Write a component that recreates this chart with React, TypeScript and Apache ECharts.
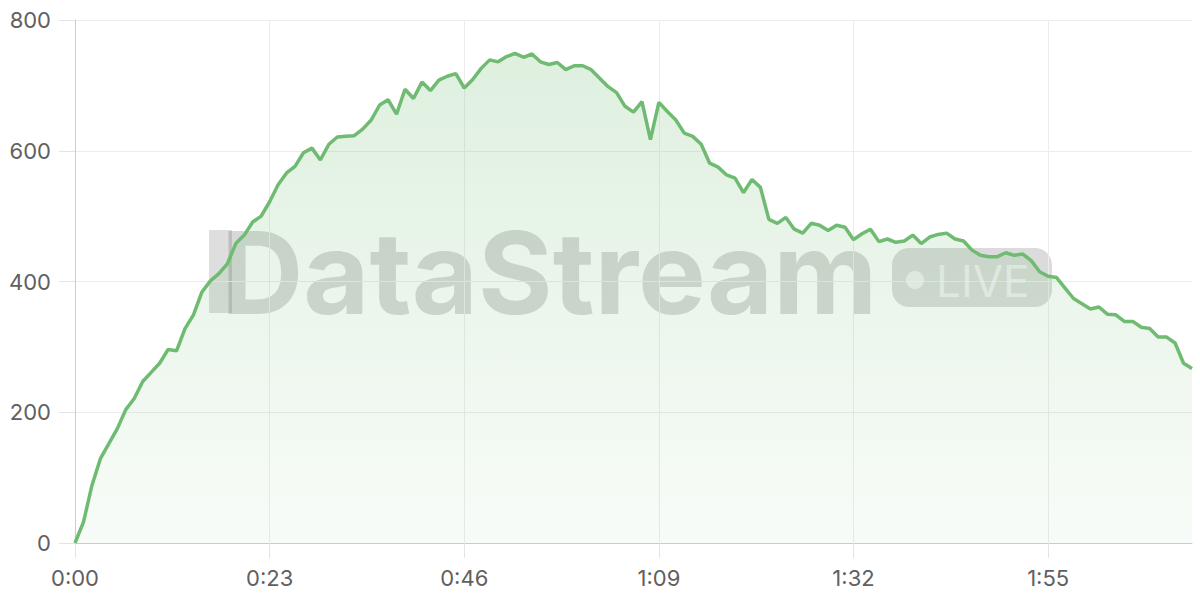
import React, { useEffect, useRef } from "react";
import * as echarts from "echarts";

// one sample per second, 0:00 .. 2:12
const seconds: number[] = Array.from({ length: 133 }, (_, i) => i);
const categories: string[] = seconds.map(
  (s) => `${Math.floor(s / 60)}:${String(s % 60).padStart(2, "0")}`
);

const values: number[] = [
  0, 32, 88, 129, 152, 175, 204, 221, 247, 261,
  275, 296, 294, 328, 349, 384, 401, 412, 427, 458,
  471, 491, 500, 522, 548, 566, 576, 597, 604, 586,
  610, 621, 622, 623, 633, 647, 670, 678, 656, 694,
  680, 705, 692, 708, 714, 718, 696, 709, 726, 739,
  736, 744, 749, 743, 748, 736, 732, 735, 724, 730,
  730, 724, 711, 698, 689, 668, 659, 675, 617, 674,
  660, 647, 627, 622, 610, 581, 575, 563, 558, 536,
  556, 544, 495, 489, 498, 480, 474, 489, 486, 478,
  486, 483, 464, 473, 480, 461, 465, 460, 462, 471,
  458, 468, 472, 474, 465, 462, 448, 440, 438, 438,
  444, 440, 442, 432, 415, 408, 406, 390, 374, 366,
  358, 361, 350, 349, 339, 339, 330, 328, 315, 315,
  306, 275, 267,
];

const yTicks: number[] = [0, 200, 400, 600, 800];
const watermarkText = "DataStream";
const badgeText = "LIVE";

export default function App() {
  const ref = useRef<HTMLDivElement>(null);

  useEffect(() => {
    document.body.style.margin = "0";
    if (!ref.current) return;
    const chart = echarts.init(ref.current, undefined, { renderer: "svg" });
    const font = "Inter, 'Noto Sans', sans-serif";
    chart.setOption({
      animation: false,
      grid: { left: 75, right: 8, top: 20, bottom: 57, containLabel: false },
      xAxis: {
        type: "category",
        data: categories,
        boundaryGap: false,
        axisLine: { show: true, lineStyle: { color: "#cccccc", width: 1 } },
        axisTick: {
          show: true,
          interval: 22,
          length: 15,
          lineStyle: { color: "#e4e4e4" },
        },
        axisLabel: {
          interval: 22,
          margin: 24,
          fontSize: 22,
          color: "#606060",
          fontFamily: font,
        },
        splitLine: { show: true, interval: 22, lineStyle: { color: "#ececec" } },
      },
      yAxis: {
        type: "value",
        min: yTicks[0],
        max: yTicks[yTicks.length - 1],
        interval: 200,
        axisLine: { show: true, lineStyle: { color: "#cccccc" } },
        axisTick: { show: true, length: 16, lineStyle: { color: "#e4e4e4" } },
        axisLabel: {
          margin: 24,
          fontSize: 22,
          color: "#606060",
          fontFamily: font,
        },
        splitLine: { show: true, lineStyle: { color: "#ececec" } },
      },
      graphic: [
        {
          type: "rect",
          z: 0,
          shape: { x: 209, y: 230, width: 23, height: 83 },
          style: { fill: "rgba(0,0,0,0.13)" },
        },
        {
          type: "text",
          z: 0,
          x: 221,
          y: 272,
          style: {
            text: watermarkText,
            fontFamily: font,
            fontWeight: "bold",
            fontSize: 114,
            fill: "rgba(60,60,60,0.2)",
            align: "left",
            verticalAlign: "middle",
          },
        },
        {
          type: "rect",
          z: 0,
          shape: { x: 892, y: 248, width: 160, height: 59, r: 17 },
          style: { fill: "rgba(0,0,0,0.14)" },
        },
        {
          type: "circle",
          z: 1,
          shape: { cx: 915, cy: 280, r: 9 },
          style: { fill: "rgba(255,255,255,0.6)" },
        },
        {
          type: "text",
          z: 1,
          x: 936,
          y: 281,
          style: {
            text: badgeText,
            fontFamily: font,
            fontSize: 44,
            fill: "rgba(255,255,255,0.6)",
            align: "left",
            verticalAlign: "middle",
          },
        },
      ],
      series: [
        {
          type: "line",
          z: 5,
          data: values,
          symbol: "none",
          smooth: false,
          lineStyle: { color: "#6fbb71", width: 3.5 },
          itemStyle: { color: "#6fbb71" },
          areaStyle: {
            color: new echarts.graphic.LinearGradient(0, 0, 0, 1, [
              { offset: 0, color: "rgba(111,187,113,0.32)" },
              { offset: 1, color: "rgba(111,187,113,0.07)" },
            ]),
          },
        },
      ],
    });
    return () => chart.dispose();
  }, []);

  return (
    <div
      ref={ref}
      style={{ position: "absolute", left: 0, top: 0, width: 1200, height: 600 }}
    />
  );
}
